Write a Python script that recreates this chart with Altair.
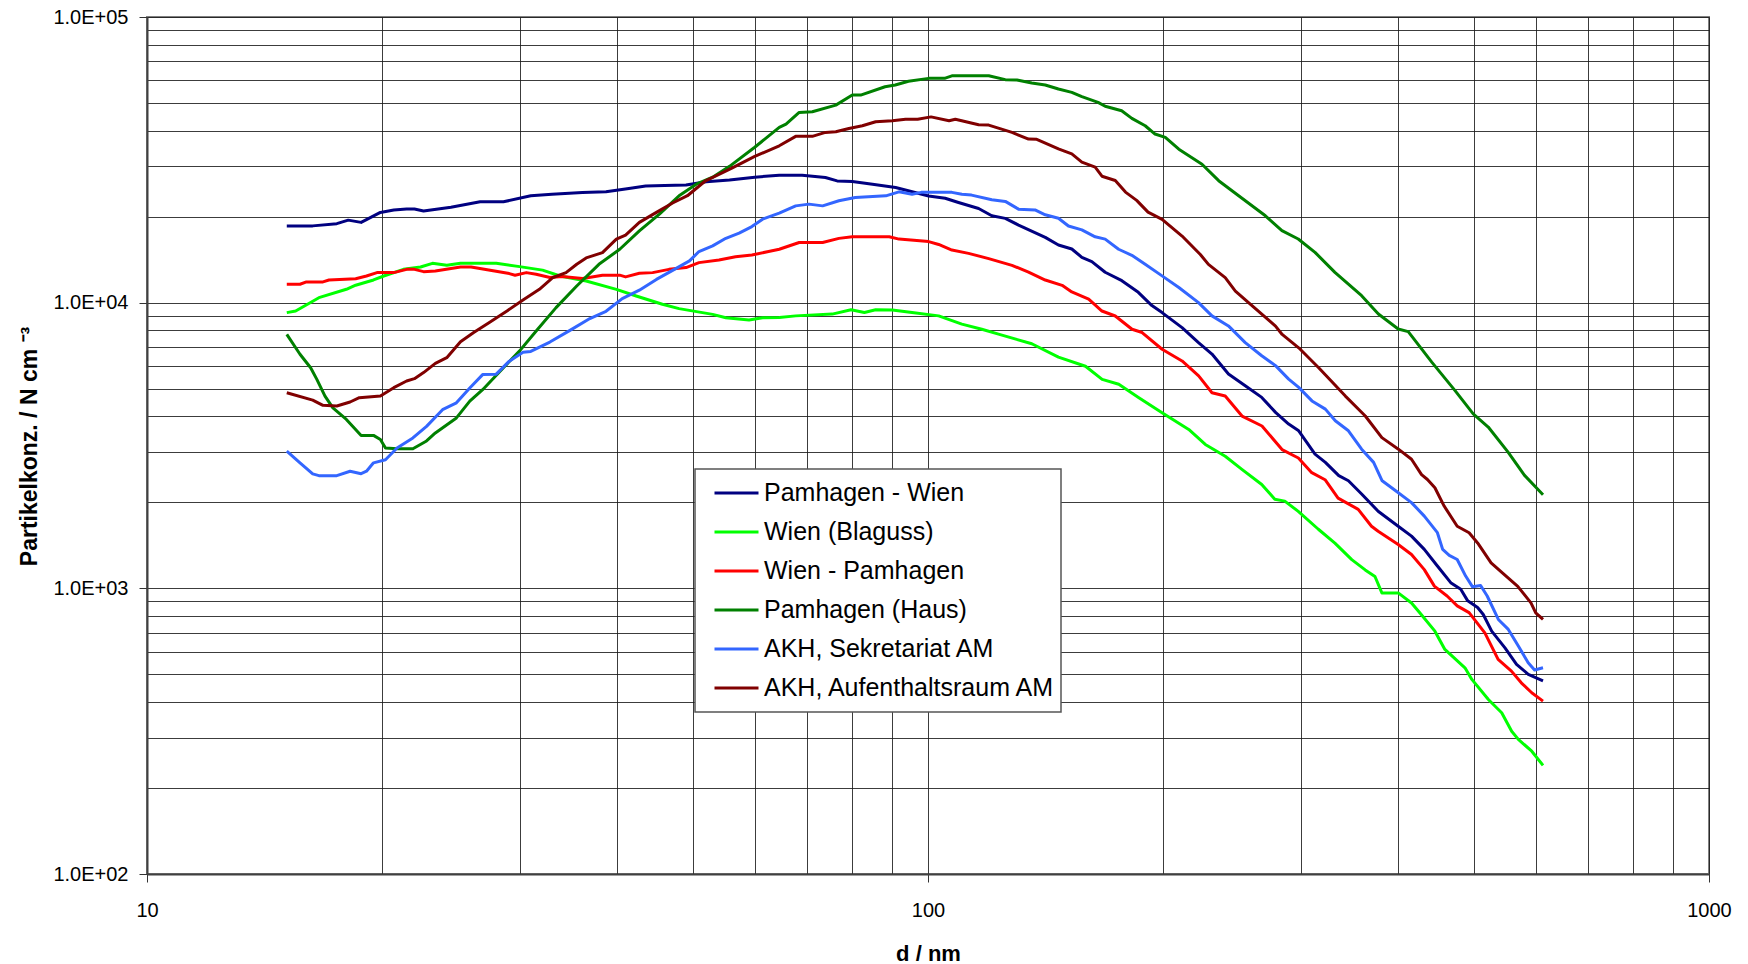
import altair as alt
import pandas as pd

# ---------------- data ----------------
SERIES = ["Pamhagen - Wien", "Wien (Blaguss)", "Wien - Pamhagen",
          "Pamhagen (Haus)", "AKH, Sekretariat AM", "AKH, Aufenthaltsraum AM"]
COLORS = ["#000080", "#00FF00", "#FF0000", "#008000", "#3366FF", "#800000"]

D_PW = [15.1, 16.3, 17.5, 18.1, 18.8, 19.9, 20.7, 21.5, 22.0, 22.6, 24.5, 26.7, 28.6, 31.0, 33.0,
        36.1, 38.7, 41.4, 43.5, 46.0, 49.0, 52.0, 55.7, 60.0, 64.5, 69.0, 73.9, 76.5, 80.0, 84.9,
        90.9, 100.2, 105.2, 109.4, 116.1, 120.7, 125.6, 130.6, 141.3, 146.9, 152.8, 157.4, 162.1,
        168.6, 177.1, 185.9, 193.5, 199.4, 211.5, 222, 231, 242.5, 254.8, 267.5, 278.6, 289.6,
        298.3, 313, 322.7, 335.7, 345.4, 359.1, 377, 400, 416, 432, 449, 467, 481, 491, 505.5,
        514, 526.9, 548, 567, 587, 613]
N_PW = [18570, 18570, 18900, 19450, 19100, 20700, 21100, 21260, 21260, 20950, 21570, 22550, 22550,
        23660, 23970, 24290, 24430, 25100, 25630, 25700, 25800, 26520, 26880, 27500, 27950, 27950,
        27420, 26680, 26540, 25980, 25300, 23640, 23200, 22420, 21360, 20150, 19730, 18690, 16930,
        15920, 15410, 14410, 13920, 12780, 11940, 10870, 9770, 9230, 8180, 7250, 6610, 5630, 5120,
        4660, 4130, 3760, 3560, 2950, 2760, 2480, 2380, 2140, 1862, 1650, 1523, 1369, 1197, 1047,
        993, 904, 857, 810, 708, 619, 542, 500, 474]

D_WB = [15.1, 15.5, 16.6, 18.0, 18.5, 19.5, 20.1, 21.3, 22.4, 23.2, 24.2, 25.2, 28.0, 30.0, 32.1,
        33.8, 36.5, 39.9, 42.3, 45.7, 48.0, 53.0, 55.1, 59.0, 61.4, 64.5, 67.7, 75.4, 79.7, 82.9,
        85.7, 90, 95.4, 103.2, 110.5, 117.2, 123.1, 135.8, 146.9, 159.1, 167.1, 175.5, 186.2,
        199.4, 215.7, 226.5, 240.2, 252.3, 267.5, 278, 286.3, 297.9, 316.1, 331.9, 348.8, 362.9,
        373.5, 381.2, 400, 416, 426.5, 445.7, 459, 487, 497, 521.8, 542.7, 558.9, 570, 593, 613]
N_WB = [9230, 9350, 10410, 11140, 11510, 12010, 12400, 13080, 13330, 13730, 13510, 13730, 13730,
        13370, 13000, 12400, 11910, 11130, 10550, 9870, 9530, 9100, 8860, 8690, 8860, 8870, 8990,
        9120, 9440, 9240, 9440, 9420, 9240, 8990, 8410, 8070, 7760, 7180, 6450, 5990, 5390, 5180,
        4650, 4120, 3600, 3190, 2900, 2610, 2310, 2050, 2020, 1860, 1610, 1440, 1260, 1160, 1100,
        964, 964, 889, 820, 708, 611, 527, 480, 408, 367, 316, 296, 269, 240]

D_WP = [15.1, 15.7, 16.0, 16.8, 17.1, 18.5, 19.1, 19.7, 20.7, 21.5, 22.0, 22.6, 23.4, 25.2, 26.0,
        29.1, 29.6, 30.6, 31.5, 32.8, 34.0, 36.1, 36.8, 38.3, 40.3, 41.0, 42.7, 44.4, 46.6, 49.0,
        50.9, 54.0, 56.7, 59.5, 62.5, 64.5, 68.4, 73.3, 76.9, 80, 89.2, 91.8, 100.2, 103.2, 107.3,
        112.7, 119.6, 128.1, 134.5, 141.3, 148.5, 152.8, 160.6, 167, 173.7, 182.5, 188, 199.4,
        211.5, 222.1, 231, 240.2, 252.4, 267.7, 284, 298, 310, 322.4, 335, 355.5, 369.7, 377, 400,
        416, 432, 445, 462, 476, 493, 516.4, 537, 558.5, 575, 593, 613]
N_WP = [11600, 11600, 11820, 11820, 12000, 12130, 12400, 12740, 12740, 13080, 13080, 12840, 12900,
        13330, 13330, 12640, 12480, 12740, 12570, 12250, 12350, 12150, 12250, 12480, 12480, 12310,
        12670, 12740, 13080, 13270, 13810, 14110, 14490, 14690, 15100, 15380, 16240, 16240, 16790,
        17020, 17020, 16690, 16360, 15990, 15280, 14880, 14260, 13510, 12800, 12000, 11500, 10900,
        10280, 9350, 8980, 8070, 7860, 6870, 6250, 5540, 4840, 4710, 4010, 3700, 3060, 2860, 2540,
        2400, 2070, 1890, 1650, 1585, 1423, 1313, 1163, 1018, 940, 868, 822, 698, 564, 513, 467,
        431, 403]

D_PH = [15.1, 15.7, 16.2, 16.5, 16.9, 17.3, 18.0, 18.8, 19.5, 19.9, 20.2, 20.9, 21.9, 22.8, 23.4,
        24.9, 25.9, 26.9, 28.6, 30.0, 31.5, 33.4, 35.5, 37.9, 40.3, 42.7, 45.3, 48.0, 50.5, 53.0,
        55.7, 60.0, 64.5, 65.8, 68.4, 71.1, 76.2, 80, 82, 88.1, 90.8, 94.4, 100.2, 105, 107.3,
        119.6, 125.6, 130, 135.8, 141.3, 146.9, 152.8, 157.4, 165.1, 168.6, 177, 182.4, 189.7,
        195.3, 201.3, 209.5, 224.3, 235.6, 249.9, 270.4, 283.9, 297.9, 313, 331.9, 359.1, 377.3,
        400, 412, 441.6, 473, 499, 521.6, 553, 580.5, 613]
N_PH = [7740, 6600, 5920, 5390, 4710, 4280, 3900, 3430, 3430, 3320, 3100, 3080, 3080, 3280, 3500,
        3950, 4520, 4960, 5920, 6780, 7960, 9610, 11440, 13620, 15380, 17840, 20400, 23660, 25980,
        27500, 30000, 35000, 41070, 42190, 46340, 46600, 49150, 53290, 53290, 57000, 57780, 59560,
        60980, 60980, 62250, 62250, 60350, 60200, 58720, 57780, 55950, 54480, 52600, 50260, 48680,
        46980, 44180, 41620, 38930, 37910, 34440, 30530, 26730, 23680, 20140, 17860, 16710, 15000,
        12770, 10580, 9130, 8090, 7920, 6190, 4920, 4080, 3670, 2999, 2485, 2127]

D_AS = [15.1, 15.7, 16.3, 16.6, 17.5, 18.2, 18.8, 19.1, 19.5, 20.2, 20.9, 21.9, 22.8, 23.9, 24.9,
        25.9, 26.9, 28.0, 29.1, 30.3, 31.0, 32.8, 34.8, 36.9, 38.7, 40.6, 42.7, 44.9, 47.6, 49.5,
        50.9, 53.0, 55.1, 57.3, 59.5, 61.4, 64.5, 67.7, 70.4, 73.3, 76.9, 80.7, 88.3, 91.8, 95.4,
        98, 107.3, 110.5, 113.7, 120.7, 125.6, 130.6, 137.1, 141.3, 146.9, 151.3, 157.4, 163.7,
        168.6, 175.4, 182.4, 189.7, 199.4, 209.5, 222, 231, 242.5, 254.8, 267.5, 278.6, 289.6,
        298.3, 310.2, 322.7, 332.3, 345.4, 359.1, 372, 381.5, 396.6, 416, 432, 449, 456, 465, 476,
        488, 498, 510, 520, 537.4, 553.4, 570, 586.8, 598, 613]
N_AS = [3020, 2750, 2515, 2480, 2480, 2570, 2520, 2570, 2750, 2820, 3100, 3360, 3690, 4220, 4460,
        5030, 5600, 5620, 6240, 6700, 6750, 7280, 8000, 8800, 9330, 10330, 11060, 12060, 13180,
        14000, 15100, 15810, 16800, 17520, 18470, 19600, 20570, 21820, 22130, 21820, 22740, 23360,
        23660, 24430, 23970, 24330, 24330, 23950, 23800, 22920, 22620, 21250, 21120, 20300, 19750,
        18560, 17980, 17000, 16690, 15380, 14650, 13630, 12410, 11300, 10000, 8990, 8290, 7250,
        6520, 6020, 5400, 5050, 4530, 4240, 3860, 3560, 3070, 2760, 2380, 2200, 1995, 1790, 1566,
        1369, 1304, 1262, 1104, 1012, 1023, 940, 778, 718, 628, 549, 518, 527]

D_AA = [15.1, 16.3, 16.8, 17.5, 18.2, 18.7, 19.9, 20.7, 21.5, 22.0, 22.6, 23.4, 24.2, 25.2, 26.2,
        27.5, 28.9, 30.3, 31.8, 33.1, 34.4, 35.5, 36.5, 38.3, 39.9, 41.0, 42.7, 44.9, 47.1, 49.2,
        51.9, 56, 60, 64.5, 67.7, 71.1, 73.9, 76.2, 79.2, 82.4, 85.7, 90, 93.6, 97, 100.9, 106.4,
        108.4, 116.1, 119.6, 128.1, 134.5, 137.8, 146.9, 152.8, 157.4, 163.7, 167, 173.7, 179, 185,
        191.3, 199.4, 211.5, 223.2, 228.6, 240.2, 247.5, 257.5, 278.6, 284.1, 298.3, 316.4, 342.3,
        363, 381.2, 400.2, 416, 428.5, 436, 445.7, 458, 476, 493, 505.5, 526, 547, 569, 591.6,
        600, 613]
N_AA = [4840, 4560, 4370, 4350, 4490, 4650, 4710, 5040, 5320, 5420, 5690, 6130, 6420, 7300, 7860,
        8560, 9350, 10220, 11140, 12250, 12740, 13630, 14340, 14970, 16690, 17240, 19100, 20700,
        22330, 23680, 26710, 29500, 32500, 35420, 38210, 38210, 39450, 39660, 40720, 41610, 42970,
        43320, 43860, 43860, 44700, 43320, 43860, 41950, 41850, 39450, 37380, 37300, 34520, 33170,
        31040, 29810, 27710, 26770, 24380, 22800, 20750, 19580, 17110, 14750, 13610, 12230, 10980,
        9990, 8280, 7740, 6950, 5920, 4710, 4010, 3370, 3070, 2830, 2500, 2404, 2250, 1941, 1650,
        1565, 1442, 1228, 1117, 1016, 889, 821, 778]

X_GRID = [10, 20, 30, 40, 50, 60, 70, 80, 90, 100, 200, 300, 400, 500, 600, 700, 800, 900, 1000]
Y_GRID = [m * 10 ** e for e in (2, 3, 4) for m in range(1, 10)] + [100000]

# ---------------- table ----------------
frames = []
for name, d, n in zip(SERIES,
                      [D_PW, D_WB, D_WP, D_PH, D_AS, D_AA],
                      [N_PW, N_WB, N_WP, N_PH, N_AS, N_AA]):
    frames.append(pd.DataFrame({"d": d, "N": n, "series": name}))
df = pd.concat(frames, ignore_index=True)

FONT = "Liberation Sans"
IS_DECADE = "abs(log(datum.value)/LN10 - round(log(datum.value)/LN10)) < 1e-6"

x_axis = alt.Axis(
    values=X_GRID,
    labelExpr=f"({IS_DECADE}) ? format(datum.value, 'd') : ''",
    labelOverlap=False, labelFlush=False,
    labelFont=FONT, labelFontSize=20, labelColor="#000",
    labelBaseline="alphabetic", labelPadding=34,
    tickSize=8, tickColor="#333", tickWidth=1,
    tickOpacity={"condition": {"test": IS_DECADE, "value": 1}, "value": 0},
    grid=True, gridColor="#1a1a1a", gridWidth=1, gridOpacity=0.85,
    domain=True, domainColor="#404040", domainWidth=2,
    title="d / nm", titleFont=FONT, titleFontSize=22, titleFontWeight="bold",
    titleColor="#000", titleBaseline="alphabetic", titleY=86,
)

y_axis = alt.Axis(
    values=Y_GRID,
    labelExpr=f"({IS_DECADE}) ? '1.0E+0' + format(round(log(datum.value)/LN10), 'd') : ''",
    labelOverlap=False, labelFlush=False,
    labelFont=FONT, labelFontSize=20, labelColor="#000", labelPadding=11,
    tickSize=8, tickColor="#333", tickWidth=1,
    tickOpacity={"condition": {"test": IS_DECADE, "value": 1}, "value": 0},
    grid=True, gridColor="#1a1a1a", gridWidth=1, gridOpacity=0.85,
    domain=True, domainColor="#404040", domainWidth=2,
    title="Partikelkonz. / N cm  \u207b\u00b3", titleFont=FONT, titleFontSize=23,
    titleFontWeight="bold", titleColor="#000", titleAngle=-90,
    titleBaseline="alphabetic", titleX=-111, titleY=429,
)

legend = alt.Legend(
    orient="none", legendX=548, legendY=452,
    title=None,
    fillColor="#ffffff", strokeColor="#555555",
    padding=5, symbolOffset=13,
    symbolType="stroke", symbolSize=1936, symbolStrokeWidth=3,
    labelFont=FONT, labelFontSize=25, labelColor="#000", labelOffset=4,
    clipHeight=38, rowPadding=1, labelLimit=400,
)

chart = (
    alt.Chart(df)
    .mark_line(strokeWidth=3, strokeJoin="round", clip=True)
    .encode(
        x=alt.X("d:Q", scale=alt.Scale(type="log", domain=[10, 1000], nice=False), axis=x_axis),
        y=alt.Y("N:Q", scale=alt.Scale(type="log", domain=[100, 100000], nice=False), axis=y_axis),
        color=alt.Color("series:N", scale=alt.Scale(domain=SERIES, range=COLORS), legend=legend),
        detail="series:N",
    )
    .properties(
        width=1562, height=857,
        autosize=alt.AutoSizeParams(type="none"),
        padding={"left": 147, "top": 17, "right": 39, "bottom": 90},
        background="#ffffff",
    )
    .configure_view(stroke="#808080", strokeWidth=2)
    .configure_legend(strokeWidth=1.5)
)

chart.save("out.html", embed_options={"renderer": "svg", "actions": False})
